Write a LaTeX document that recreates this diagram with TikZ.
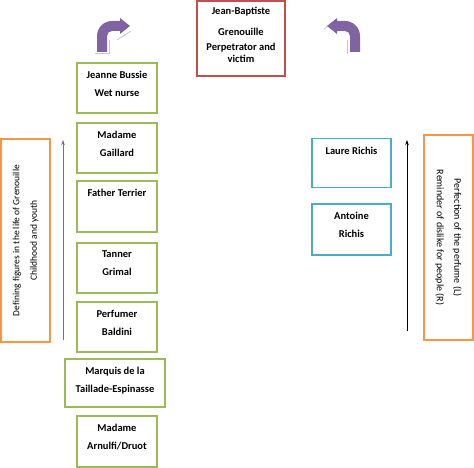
\documentclass[tikz,border=0pt]{standalone}
\usepackage{fontspec}
\setmainfont{Carlito}
\usetikzlibrary{arrows.meta}
\definecolor{cgreen}{HTML}{9BBB59}
\definecolor{cred}{HTML}{C0504D}
\definecolor{ccyan}{HTML}{4BACC6}
\definecolor{corange}{HTML}{F79646}
\definecolor{cpurple}{HTML}{8064A2}
\begin{document}
\begin{tikzpicture}[x=1pt,y=-1pt,
  boxbase/.style={draw, line width=1.6pt, fill=white, inner sep=0pt},
  gbox/.style={boxbase, draw=cgreen, minimum width=80pt, minimum height=50pt},
  cbox/.style={boxbase, draw=ccyan, minimum width=79pt, minimum height=49pt},
  obox/.style={boxbase, draw=corange, minimum width=49pt},
  rbox/.style={boxbase, draw=cred, minimum width=88pt, minimum height=75pt},
  txt/.style={inner sep=0pt, align=center, anchor=north, font=\bfseries\fontsize{10.5}{18}\selectfont},
  rtxt/.style={inner sep=0pt, align=center, font=\fontsize{10}{17.5}\selectfont},
  bent/.style={fill=cpurple, draw=none},
  shade/.style={draw=black!22, line width=0.8pt}
]
\useasboundingbox (0,0) rectangle (474,468);

% red centre box
\node[rbox] (jbg) at (241,38.5) {};
\node[txt, font=\bfseries\fontsize{10.5}{12}\selectfont] (jbgt) at ([yshift=-7pt]jbg.north)
  {Jean-Baptiste\\[9pt]Grenouille\\[3pt]Perpetrator and\\victim};

% green boxes
\node[gbox] (jb) at (117,88) {};
\node[txt] (jbt) at ([yshift=-8.5pt]jb.north) {Jeanne Bussie\\Wet nurse};
\node[gbox] (mg) at (117,148) {};
\node[txt] (mgt) at ([yshift=-8.5pt]mg.north) {Madame\\Gaillard};
\node[gbox, minimum height=51pt] (ft) at (117,206.5) {};
\node[txt] (ftt) at ([yshift=-8.5pt]ft.north) {Father Terrier};
\node[gbox] (tg) at (117,268) {};
\node[txt] (tgt) at ([yshift=-8.5pt]tg.north) {Tanner\\Grimal};
\node[gbox] (pb) at (117,327) {};
\node[txt] (pbt) at ([yshift=-8.5pt]pb.north) {Perfumer\\Baldini};
\node[gbox, minimum width=100pt, minimum height=48pt] (mq) at (115,383) {};
\node[txt] (mqt) at ([yshift=-8.5pt]mq.north) {Marquis de la\\Taillade-Espinasse};
\node[gbox, minimum height=51pt] (ma) at (117,441.5) {};
\node[txt] (mat) at ([yshift=-8.5pt]ma.north) {Madame\\Arnulfi/Druot};

% cyan boxes
\node[cbox] (lr) at (351.5,163) {};
\node[txt] (lrt) at ([yshift=-9pt]lr.north) {Laure Richis};
\node[cbox, minimum height=51pt] (ar) at (351.5,229.5) {};
\node[txt] (art) at ([yshift=-9pt]ar.north) {Antoine\\Richis};

% orange boxes with rotated text
\node[obox, minimum height=203pt] (lo) at (25.5,240.5) {};
\node[rtxt, rotate=90, font=\fontsize{9.5}{17.5}\selectfont] (lot) at (lo.center) {Defining figures in the life of Grenouille\\Childhood and youth};
\node[obox, minimum height=205pt] (ro) at (448.5,237.5) {};
\node[rtxt, rotate=-90] (rot) at (ro.center) {Perfection of the perfume (L)\\Reminder of dislike for people (R)};

% vertical arrows
\coordinate (la0) at (63,340);
\coordinate (la1) at (63,140);
\draw[cpurple, line width=0.7pt, -{Stealth[length=5pt,width=3.5pt]}] (la0) -- (la1);
\coordinate (ra0) at (407,331);
\coordinate (ra1) at (407,140);
\draw[black, line width=0.8pt, -{Stealth[length=5pt,width=3.5pt]}] (ra0) -- (ra1);

% bent arrows (shadows first)
\draw[shade] (95,53) -- (109,53) -- (109,40);
\draw[shade] (117,40) -- (131,31);
\fill[bent] (97,52) -- (97,36) .. controls (97,27.7) and (103.7,21) .. (112,21)
  -- (120,21) -- (120,18) -- (130,26) -- (120,34) -- (120,31) -- (112,31)
  .. controls (109.2,31) and (107,33.2) .. (107,36) -- (107,52) -- cycle;

\draw[shade] (347,54) -- (347,40);
\draw[shade] (324,29) -- (335,21);
\fill[bent] (360,52) -- (360,36) .. controls (360,27.7) and (353.3,21) .. (345,21)
  -- (337,21) -- (337,18) -- (327,26) -- (337,34) -- (337,31) -- (345,31)
  .. controls (347.8,31) and (350,33.2) .. (350,36) -- (350,52) -- cycle;
\end{tikzpicture}
\end{document}
